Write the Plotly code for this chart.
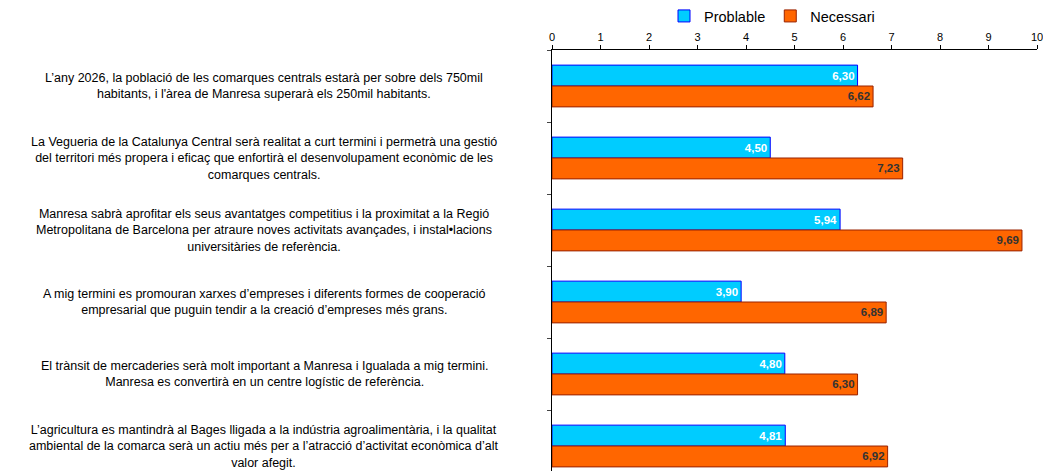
import plotly.graph_objects as go

categories = [
    "L’any 2026, la població de les comarques centrals estarà per sobre dels 750mil<br>habitants, i l'àrea de Manresa superarà els 250mil habitants.",
    "La Vegueria de la Catalunya Central serà realitat a curt termini i permetrà una gestió<br>del territori més propera i eficaç que enfortirà el desenvolupament econòmic de les<br>comarques centrals.",
    "Manresa sabrà aprofitar els seus avantatges competitius i la proximitat a la Regió<br>Metropolitana de Barcelona per atraure noves activitats avançades, i instal•lacions<br>universitàries de referència.",
    "A mig termini es promouran xarxes d’empreses i diferents formes de cooperació<br>empresarial que puguin tendir a la creació d’empreses més grans.",
    "El trànsit de mercaderies serà molt important a Manresa i Igualada a mig termini.<br>Manresa es convertirà en un centre logístic de referència.",
    "L’agricultura es mantindrà al Bages lligada a la indústria agroalimentària, i la qualitat<br>ambiental de la comarca serà un actiu més per a l’atracció d’activitat econòmica d’alt<br>valor afegit.",
]
probable = [6.30, 4.50, 5.94, 3.90, 4.80, 4.81]
necessari = [6.62, 7.23, 9.69, 6.89, 6.30, 6.92]
series_names = ["Problable", "Necessari"]
x_ticks = list(range(0, 11))

W, H = 1043, 471
ML, MR, MT, MB = 552, 6, 50, 0
plot_w = W - ML - MR
plot_h = H - MT - MB

FONT = "Liberation Sans, Arial, sans-serif"


def fmt(v):
    return f"{v:.2f}".replace(".", ",")


fig = go.Figure()
fig.add_trace(go.Bar(
    y=categories, x=probable, orientation="h", name=series_names[0],
    marker=dict(color="#00CCFF", line=dict(color="#0000FF", width=1)),
    text=[fmt(v) for v in probable], textposition="inside", insidetextanchor="end",
    textfont=dict(family=FONT, size=11.5, color="white", weight="bold"),
    hoverinfo="x+name",
))
fig.add_trace(go.Bar(
    y=categories, x=necessari, orientation="h", name=series_names[1],
    marker=dict(color="#FF6600", line=dict(color="#992200", width=1)),
    text=[fmt(v) for v in necessari], textposition="inside", insidetextanchor="end",
    textfont=dict(family=FONT, size=11.5, color="#333333", weight="bold"),
    hoverinfo="x+name",
))

label_center_px = 264
for c in categories:
    fig.add_annotation(
        x=(label_center_px - ML) / plot_w, xref="paper", xanchor="center",
        y=c, yref="y", yanchor="middle",
        text=c, showarrow=False, align="center",
        font=dict(family=FONT, size=12.5, color="black"),
    )

fig.update_layout(
    width=W, height=H,
    margin=dict(l=ML, r=MR, t=MT, b=MB, pad=0, autoexpand=False),
    paper_bgcolor="white", plot_bgcolor="white",
    barmode="group", bargap=0.42, bargroupgap=0,
    font=dict(family=FONT, color="black"),
    showlegend=True,
    legend=dict(
        orientation="h", x=(664 - ML) / plot_w, xanchor="left",
        y=1 + (MT - 16) / plot_h, yanchor="middle",
        font=dict(size=14.5), itemwidth=30, traceorder="normal",
        bgcolor="rgba(0,0,0,0)",
    ),
    xaxis=dict(
        side="top", range=[0, 10], tickvals=x_ticks, ticktext=[str(t) for t in x_ticks],
        showline=True, linecolor="black", linewidth=1,
        ticks="outside", ticklen=4, tickcolor="black",
        showgrid=False, zeroline=False, tickfont=dict(size=11),
        ticklabeloverflow="allow", automargin=False,
    ),
    yaxis=dict(
        categoryorder="array", categoryarray=categories,
        range=[5.347, -0.5], showticklabels=False,
        showline=True, linecolor="black", linewidth=1,
        ticks="outside", ticklen=4, tickcolor="#444444", tickson="boundaries",
        showgrid=False, zeroline=False, automargin=False,
    ),
)

fig.write_html(
    "out.html",
    config={"displayModeBar": False},
    post_script="document.body.style.margin='0';document.body.style.overflow='hidden';",
)
